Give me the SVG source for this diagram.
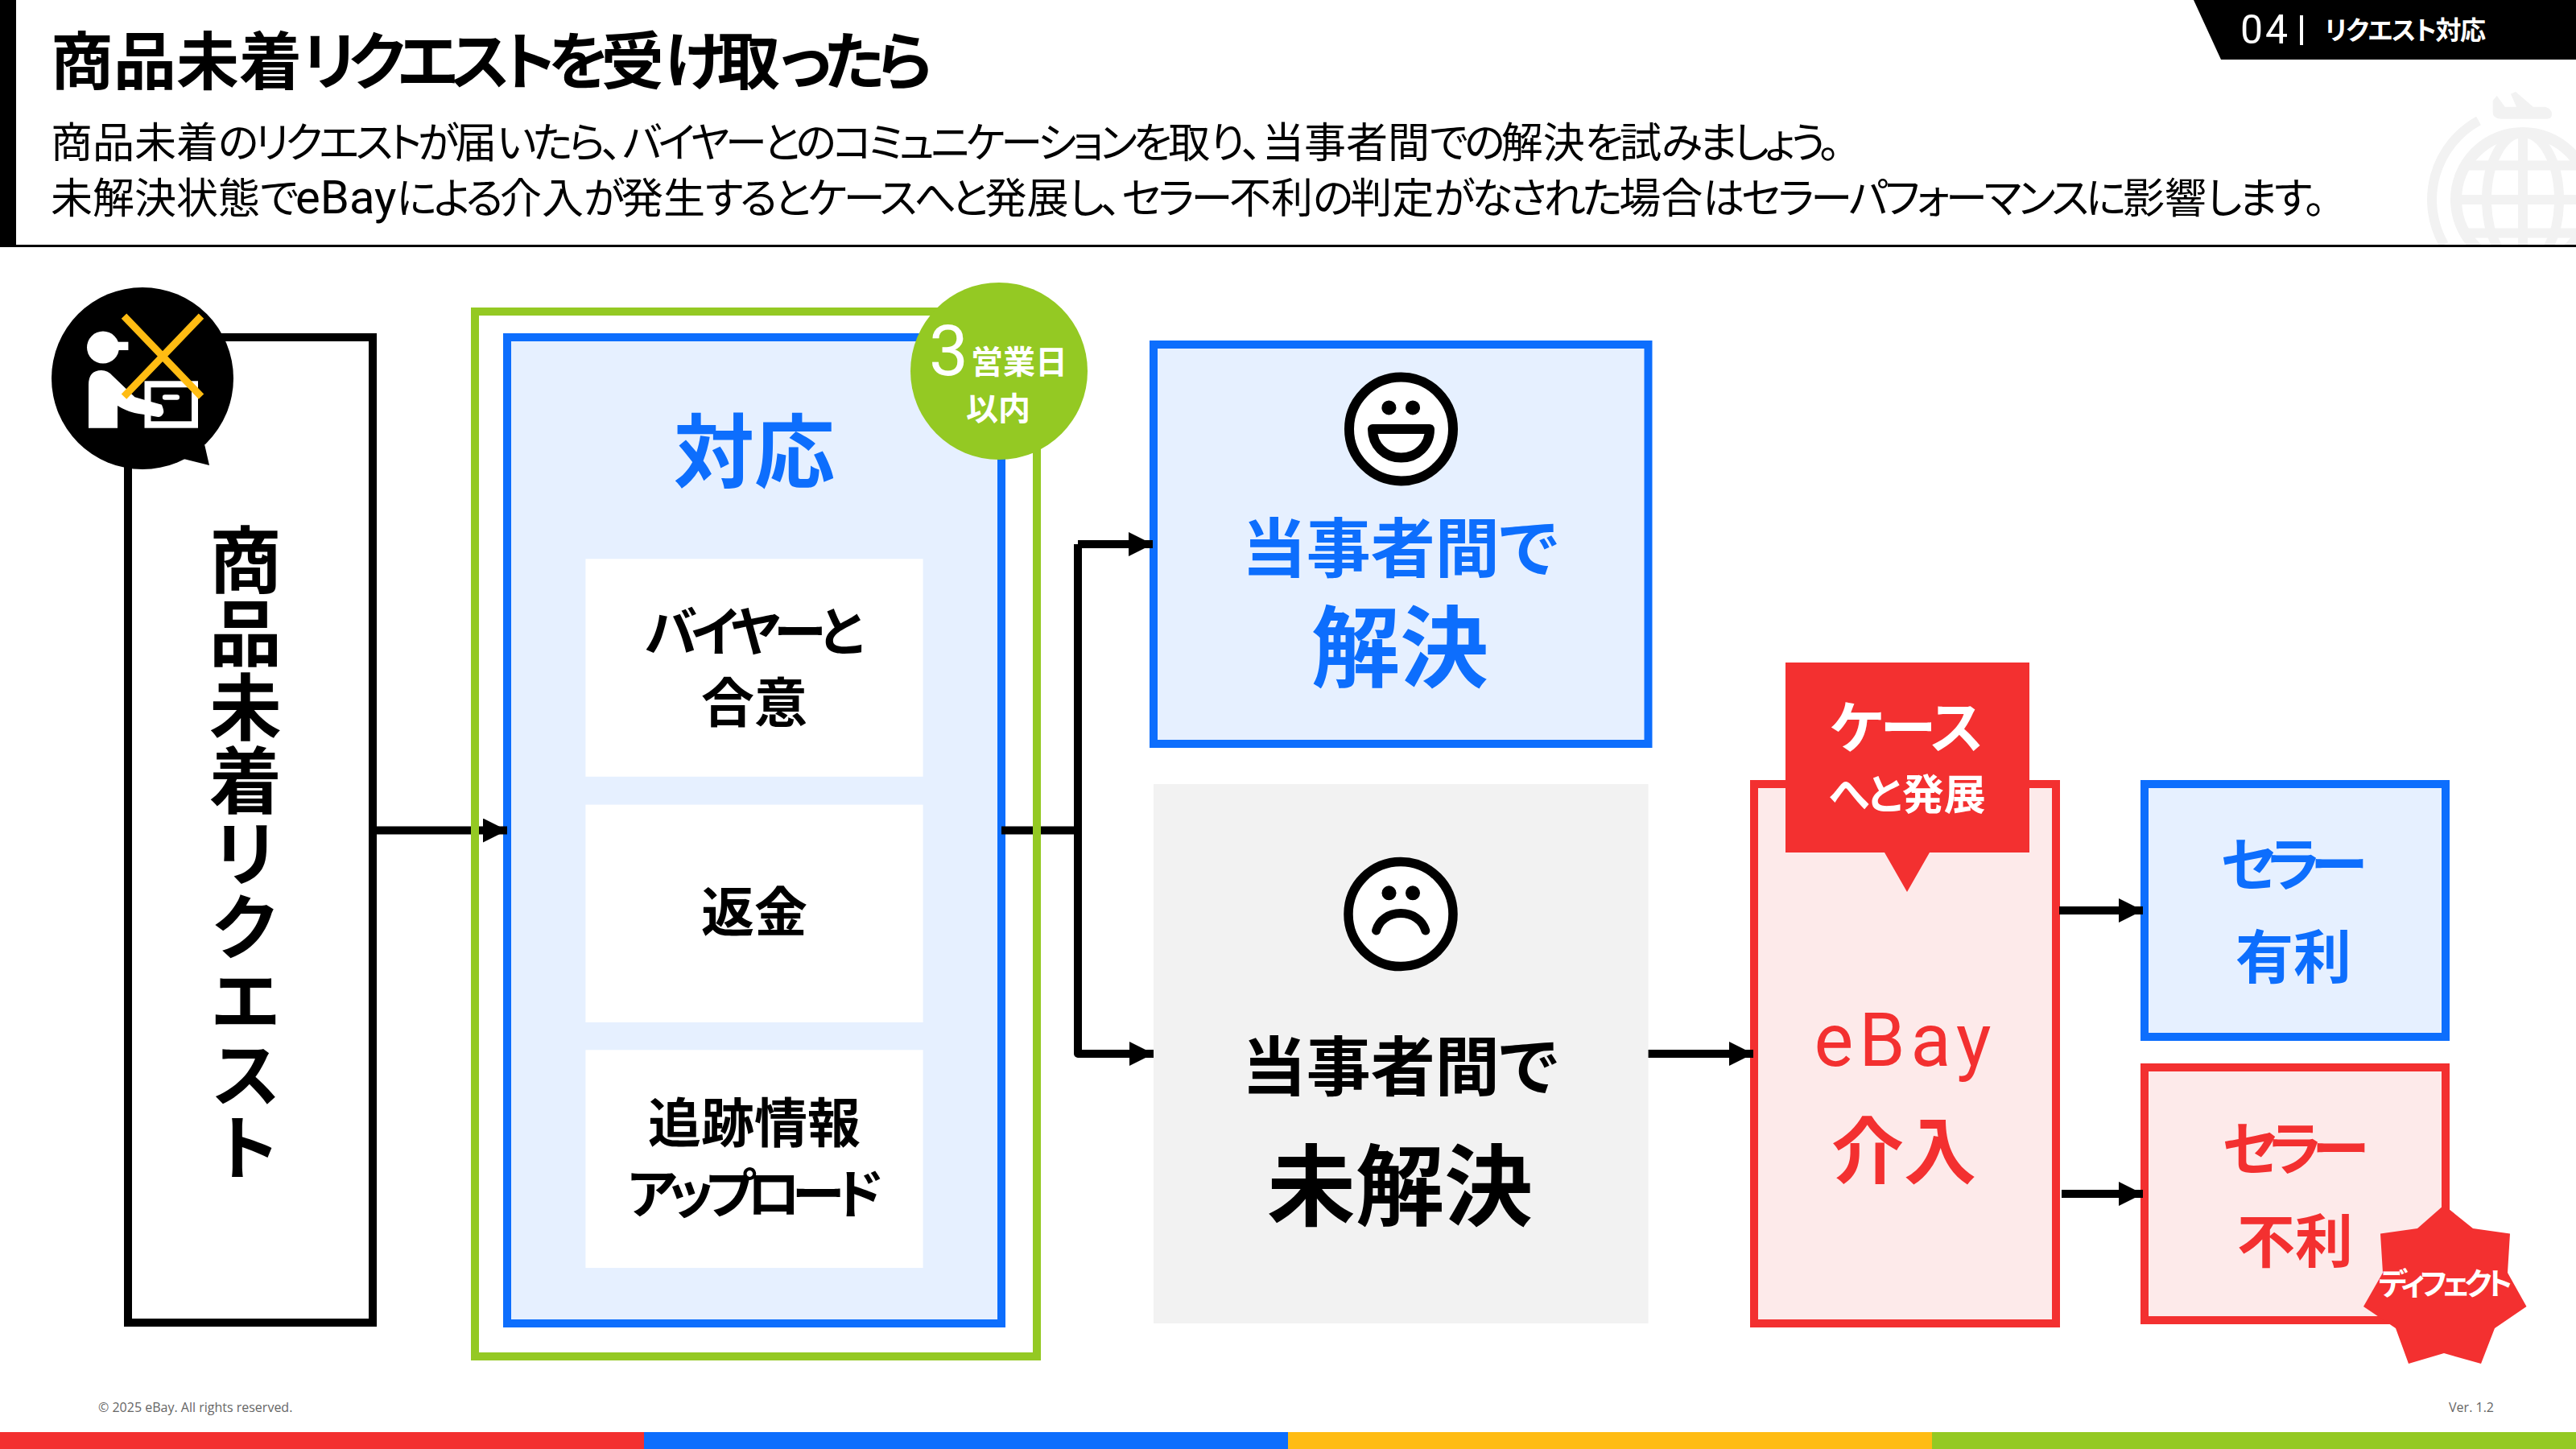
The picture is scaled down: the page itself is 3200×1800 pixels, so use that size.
<svg xmlns="http://www.w3.org/2000/svg" width="3200" height="1800" viewBox="0 0 3200 1800">
<defs>
<style>
text{font-family:"Noto Sans CJK JP","Noto Sans",sans-serif;font-feature-settings:"palt";font-weight:700}
.m{text-anchor:middle}
.reg{font-weight:400}
.blue{fill:#0d6efd}.red{fill:#f33030}.blk{fill:#000}.wht{fill:#fff}
.lat{font-family:Roboto,"Noto Sans",sans-serif;font-weight:400}
.k{letter-spacing:-.09em}
.k2{letter-spacing:-.077em}
.kt{letter-spacing:-.115em}
.wm{fill:none;stroke:#f2f2f2;stroke-width:12}
.cn{fill:none;stroke:#000;stroke-width:10;stroke-linejoin:round}
.foot{font-family:"Open Sans","Noto Sans",sans-serif;font-weight:400;font-size:16px;fill:#666}
</style>
<marker id="ah" markerUnits="userSpaceOnUse" markerWidth="30" markerHeight="30" refX="30" refY="15" orient="auto"><path d="M0 0L30 15L0 30Z" fill="#000"/></marker>
<clipPath id="hdr"><rect x="2900" y="100" width="300" height="204"/></clipPath>
</defs>
<rect width="3200" height="1800" fill="#fff"/>
<g id="watermark" clip-path="url(#hdr)">
<circle class="wm" cx="3134" cy="248" r="83" style="stroke-width:14"/>
<ellipse class="wm" cx="3134" cy="248" rx="45" ry="83"/>
<path class="wm" d="M3134 160V304M3051 248H3217M3063 205.500H3205M3062 289.500H3206"/>
<path class="wm" d="M3079 150A112 112 0 0 0 3036 304"/>
<path d="M3101.700 119L3111.700 132.700H3126L3119 116.700L3125 114L3146.700 132.700H3161.700Q3170 135 3170 142Q3170 147.700 3164 147.700H3106.700Q3096.700 147 3096.700 140V125Z" fill="#f2f2f2"/>
</g>
<g id="header">
<rect x="0" y="0" width="20" height="307" fill="#000"/>
<rect x="0" y="304" width="3200" height="3" fill="#000"/>
<text x="63" y="105" font-size="78" class="blk">商品未着<tspan class="kt">リクエストを</tspan>受<tspan class="kt">け</tspan>取<tspan class="kt">ったら</tspan></text>
<text x="63" y="196" font-size="52" class="reg blk">商品未着<tspan class="k">のリクエストが</tspan>届<tspan class="k">いたら</tspan>、<tspan class="k">バイヤーとのコミュニケーションを</tspan>取<tspan class="k">り</tspan>、当事者間<tspan class="k">での</tspan>解決<tspan class="k">を</tspan>試<tspan class="k">みましょう。</tspan></text>
<text x="63" y="265" font-size="52" class="reg blk">未解決状態<tspan class="k2">で</tspan><tspan font-size="58" style="font-family:Roboto,sans-serif">eBay</tspan><tspan class="k2">による</tspan>介入<tspan class="k2">が</tspan>発生<tspan class="k2">するとケースへと</tspan>発展<tspan class="k2">し</tspan>、<tspan class="k2">セラー</tspan>不利<tspan class="k2">の</tspan>判定<tspan class="k2">がなされた</tspan>場合<tspan class="k2">はセラーパフォーマンスに</tspan>影響<tspan class="k2">します。</tspan></text>
</g>
<g id="section-tab">
<path d="M2725 0H3200V74H2759Z" fill="#000"/>
<text x="2783" y="54" font-size="50" class="lat wht" letter-spacing="3">04</text>
<rect x="2857" y="19" width="4" height="37" fill="#fff"/>
<text x="2888" y="49" font-size="32" class="wht" letter-spacing="-1.300">リクエスト対応</text>
</g>
<g id="node-request">
<rect x="159" y="419" width="304" height="1224" fill="#fff" stroke="#000" stroke-width="10"/>
<text x="305" y="650" font-size="90" class="blk" letter-spacing="1.200" style="writing-mode:vertical-rl;font-feature-settings:normal">商品未着リクエスト</text>
</g>
<g id="node-response">
<rect x="635" y="424" width="604" height="1215" fill="#e6f0ff"/>
<rect x="630" y="419" width="614" height="1225" fill="none" stroke="#0d6efd" stroke-width="10"/>
<text x="937" y="598" font-size="100" class="m blue">対応</text>
</g>
<g id="node-agree">
<rect x="727.400" y="694.300" width="419.200" height="270.500" fill="#fff"/>
<text x="933" y="809" font-size="66" class="m blk" letter-spacing="-8">バイヤーと</text>
<text x="937" y="897" font-size="66" class="m blk">合意</text>
</g>
<g id="node-refund">
<rect x="727.400" y="999.600" width="419.200" height="270.400" fill="#fff"/>
<text x="937" y="1157" font-size="66" class="m blk">返金</text>
</g>
<g id="node-tracking">
<rect x="727.400" y="1304.300" width="419.200" height="270.700" fill="#fff"/>
<text x="937" y="1419" font-size="66" class="m blk">追跡情報</text>
<text x="933" y="1507" font-size="66" class="m blk" letter-spacing="-10">アップロード</text>
</g>
<g id="node-resolved">
<rect x="1433" y="428" width="614.500" height="496" fill="#e6f0ff" stroke="#0d6efd" stroke-width="10"/>
<circle cx="1740.500" cy="533" r="64.500" fill="#fff" stroke="#000" stroke-width="12"/>
<circle cx="1725.400" cy="506.400" r="9" fill="#000"/>
<circle cx="1755" cy="506.400" r="9" fill="#000"/>
<path d="M1705 533H1776C1776 553 1761 568.600 1740.500 568.600C1720 568.600 1705 553 1705 533Z" fill="#fff" stroke="#000" stroke-width="12" stroke-linejoin="round"/>
<text x="1739" y="710" font-size="80" class="m blue">当事者間で</text>
<text x="1739" y="845" font-size="110" class="m blue">解決</text>
</g>
<g id="node-unresolved">
<rect x="1433" y="974" width="614.600" height="670" fill="#f2f2f2"/>
<circle cx="1740" cy="1135.600" r="65" fill="#fff" stroke="#000" stroke-width="11.500"/>
<circle cx="1725.500" cy="1109.300" r="9" fill="#000"/>
<circle cx="1755" cy="1109.300" r="9" fill="#000"/>
<path d="M1709.600 1156C1713 1143 1725 1134.600 1740 1134.600C1755 1134.600 1767 1143 1770.800 1156" fill="none" stroke="#000" stroke-width="11" stroke-linecap="round"/>
<text x="1739" y="1354" font-size="80" class="m blk">当事者間で</text>
<text x="1739" y="1514" font-size="110" class="m blk">未解決</text>
</g>
<g id="node-ebay">
<rect x="2179" y="974" width="375" height="670" fill="#fdeaea" stroke="#f33030" stroke-width="10"/>
<text x="2367" y="1324" font-size="92" class="m lat red" letter-spacing="7">eBay</text>
<text x="2365" y="1463" font-size="90" class="m red">介入</text>
</g>
<g id="node-favor">
<rect x="2664" y="974" width="374" height="314" fill="#e6f0ff" stroke="#0d6efd" stroke-width="10"/>
<text x="2844" y="1100" font-size="72" class="m blue" letter-spacing="-11">セラー</text>
<text x="2849" y="1215" font-size="72" class="m blue">有利</text>
</g>
<g id="node-against">
<rect x="2664" y="1326" width="374" height="314" fill="#fdeaea" stroke="#f33030" stroke-width="10"/>
<text x="2846" y="1453" font-size="72" class="m red" letter-spacing="-11">セラー</text>
<text x="2851" y="1568" font-size="72" class="m red">不利</text>
</g>
<g id="connectors">
<path class="cn" d="M468 1031.500H630" marker-end="url(#ah)"/>
<path class="cn" d="M1244 1031.500H1339"/>
<path class="cn" d="M1339 676H1432" marker-end="url(#ah)"/>
<path class="cn" d="M1339 676V1309H1433" marker-end="url(#ah)"/>
<path class="cn" d="M2047.600 1309H2178" marker-end="url(#ah)"/>
<path class="cn" d="M2558 1131H2662" marker-end="url(#ah)"/>
<path class="cn" d="M2561 1483H2662" marker-end="url(#ah)"/>
</g>
<g id="frame-response">
<rect x="590" y="387" width="698" height="1298" fill="none" stroke="#94c923" stroke-width="10"/>
</g>
<g id="badge-deadline">
<circle cx="1241" cy="461" r="110" fill="#94c923"/>
<text x="1154" y="466" font-size="87" class="lat wht">3</text>
<text x="1266" y="464" font-size="40" class="m wht">営業日</text>
<text x="1240" y="522" font-size="40" class="m wht">以内</text>
</g>
<g id="icon-no-delivery">
<circle cx="177" cy="470" r="113" fill="#000"/>
<path d="M253.600 550L260 578L228 570L200 560Z" fill="#000"/>
<circle cx="128" cy="431.600" r="20" fill="#fff"/>
<rect x="146" y="424.700" width="13.400" height="10.300" fill="#fff"/>
<rect x="179.500" y="473.300" width="66.500" height="58.400" fill="#fff"/>
<rect x="187.500" y="481.300" width="50.500" height="42" fill="#000"/>
<rect x="201.800" y="490.300" width="21.200" height="6.400" rx="3.200" fill="#fff"/>
<path d="M110 531.700V478Q110 460 126 460Q134 460 140 467L167.400 493.300L179.500 496.700L200.900 502.700Q204 510 203 513Q201 518 196.400 518L179.500 515Q160.700 513.300 146 504V531.700Z" fill="#fff"/>
<path d="M154 392.700L250 492.700M250 392.700L154 492.700" stroke="#ffbc13" stroke-width="9" fill="none"/>
</g>
<g id="tag-case">
<path d="M2218 823H2521V1059H2397L2369 1108L2341 1059H2218Z" fill="#f33030"/>
<text x="2367" y="930" font-size="70" class="m wht" letter-spacing="-3">ケース</text>
<text x="2369" y="1006" font-size="52" class="m wht">へと発展</text>
</g>
<g id="badge-defect">
<path d="M3036 1497L3072 1526L3118 1532.500L3115 1581L3138.500 1623L3099 1650L3082 1694L3036 1681L2992 1694L2976 1650L2936 1623L2960 1581L2957 1532.500L3003 1526Z" fill="#f33030"/>
<text x="3035" y="1608" font-size="38" class="m wht" letter-spacing="-6">ディフェクト</text>
</g>
<g id="footer">
<text x="122" y="1754" class="foot">© 2025 eBay. All rights reserved.</text>
<text x="3098" y="1754" class="foot" text-anchor="end">Ver. 1.2</text>
<rect x="0" y="1779" width="800" height="21" fill="#f33030"/>
<rect x="800" y="1779" width="800" height="21" fill="#0d6efd"/>
<rect x="1600" y="1779" width="800" height="21" fill="#ffbc13"/>
<rect x="2400" y="1779" width="800" height="21" fill="#94c923"/>
</g>
</svg>
